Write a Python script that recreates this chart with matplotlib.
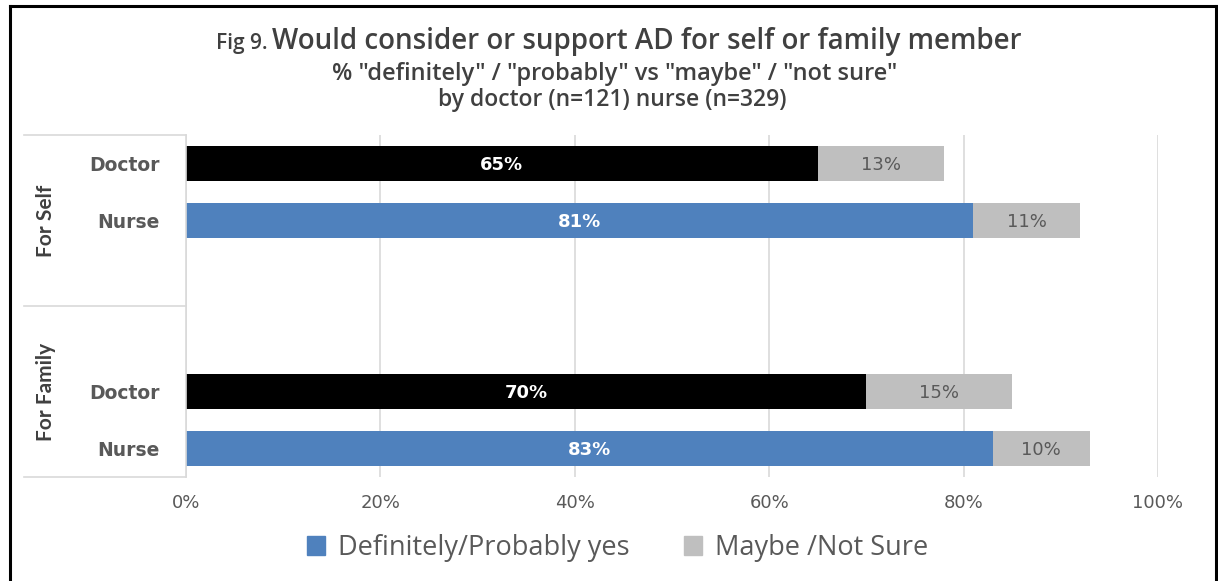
import matplotlib.pyplot as plt
import numpy as np
from matplotlib.lines import Line2D
from matplotlib.patches import Patch
import matplotlib.transforms as mtransforms

# data
groups = ["For Self", "For Family"]
respondents = ["Doctor", "Nurse", "Doctor", "Nurse"]
slots = [0, 1, 4, 5]  # Excel leaves an empty slot at the end/start of each group
yes_pct = [65, 81, 70, 83]
maybe_pct = [13, 11, 15, 10]
yes_colors = ["#000000", "#4F81BD", "#000000", "#4F81BD"]
legend_labels = ["Definitely/Probably yes", "Maybe /Not Sure"]
xticks = [0, 20, 40, 60, 80, 100]

blue = "#4F81BD"
grey = "#BFBFBF"
txt = "#595959"
grid_c = "#D9D9D9"
title_c = "#404040"

W, H = 1218, 581
fig = plt.figure(figsize=(W / 100, H / 100), dpi=100)
fig.patch.set_facecolor("white")

def fx(px):
    return px / W

def fy(py):
    return 1 - py / H

# outer frame (left, top, right)
fig.add_artist(Line2D([fx(10), fx(10)], [0, fy(6)], color="black", lw=2.2))
fig.add_artist(Line2D([fx(10), fx(1216)], [fy(6), fy(6)], color="black", lw=2.2))
fig.add_artist(Line2D([fx(1216), fx(1216)], [0, fy(6)], color="black", lw=2.2))

ax = fig.add_axes([fx(186), fy(477), fx(1158) - fx(186), (477 - 135) / H])

bar_h = 0.63
ax.barh(slots, yes_pct, height=bar_h, color=yes_colors, zorder=3)
ax.barh(slots, maybe_pct, left=yes_pct, height=bar_h, color=grey, zorder=3)

for s, a, b in zip(slots, yes_pct, maybe_pct):
    ax.text(a / 2, s + 0.03, f"{a}%", ha="center", va="center", color="white",
            fontsize=13, fontweight="bold", zorder=4)
    ax.text(a + b / 2, s + 0.03, f"{b}%", ha="center", va="center", color=txt,
            fontsize=13, zorder=4)

ax.set_xlim(0, 100)
ax.set_ylim(5.5, -0.5)
ax.set_xticks(xticks)
ax.set_xticklabels([f"{t}%" for t in xticks], color=txt, fontsize=13)
ax.set_yticks([])
ax.tick_params(axis="x", length=0, pad=12)
for side in ["top", "right", "bottom"]:
    ax.spines[side].set_visible(False)
ax.spines["left"].set_color(grid_c)
ax.spines["left"].set_linewidth(1.2)
ax.spines["left"].set_zorder(5)
ax.grid(axis="x", color=grid_c, lw=1.2, zorder=0)

# multi-level category axis drawn by hand
trans = mtransforms.blended_transform_factory(ax.transAxes, ax.transData)
x_box = (24 - 186) / 972
for yb in [-0.5, 2.5, 5.5]:
    ax.add_line(Line2D([x_box, 0], [yb, yb], transform=trans, color=grid_c,
                       lw=1.2, clip_on=False))
x_lab = (160 - 186) / 972
for s, name in zip(slots, respondents):
    ax.text(x_lab, s + 0.03, name, transform=trans, ha="right", va="center",
            color=txt, fontsize=13.5, fontweight="bold")
x_grp = (46 - 186) / 972
ax.text(x_grp, 1.0, groups[0], transform=trans, rotation=90, ha="center",
        va="center", color=title_c, fontsize=15, fontweight="bold", family="Lato")
ax.text(x_grp, 4.0, groups[1], transform=trans, rotation=90, ha="center",
        va="center", color=title_c, fontsize=15, fontweight="bold", family="Lato")

# title
fig.text(fx(268), fy(43), "Fig 9.", ha="right", va="center", fontsize=15,
         color=title_c, fontweight="semibold", family="Open Sans")
fig.text(fx(272), fy(42), "Would consider or support AD for self or family member",
         ha="left", va="center", fontsize=20, color=title_c, fontweight="semibold",
         family="Open Sans")
fig.text(fx(615), fy(74), '% "definitely" / "probably" vs "maybe" / "not sure"',
         ha="center", va="center", fontsize=17, color=title_c, fontweight="semibold",
         family="Open Sans")
fig.text(fx(612), fy(100), "by doctor (n=121) nurse (n=329)",
         ha="center", va="center", fontsize=16.5, color=title_c, fontweight="semibold",
         family="Open Sans")

handles = [Patch(color=blue), Patch(color=grey)]
fig.legend(handles, legend_labels, loc="center", bbox_to_anchor=(fx(618), fy(548)),
           ncol=2, frameon=False, handlelength=0.65, handleheight=0.65,
           handletextpad=0.5, columnspacing=2.0,
           prop={"family": "Open Sans", "size": 19.5}, labelcolor=txt)

fig.savefig("out.png", dpi=100)
